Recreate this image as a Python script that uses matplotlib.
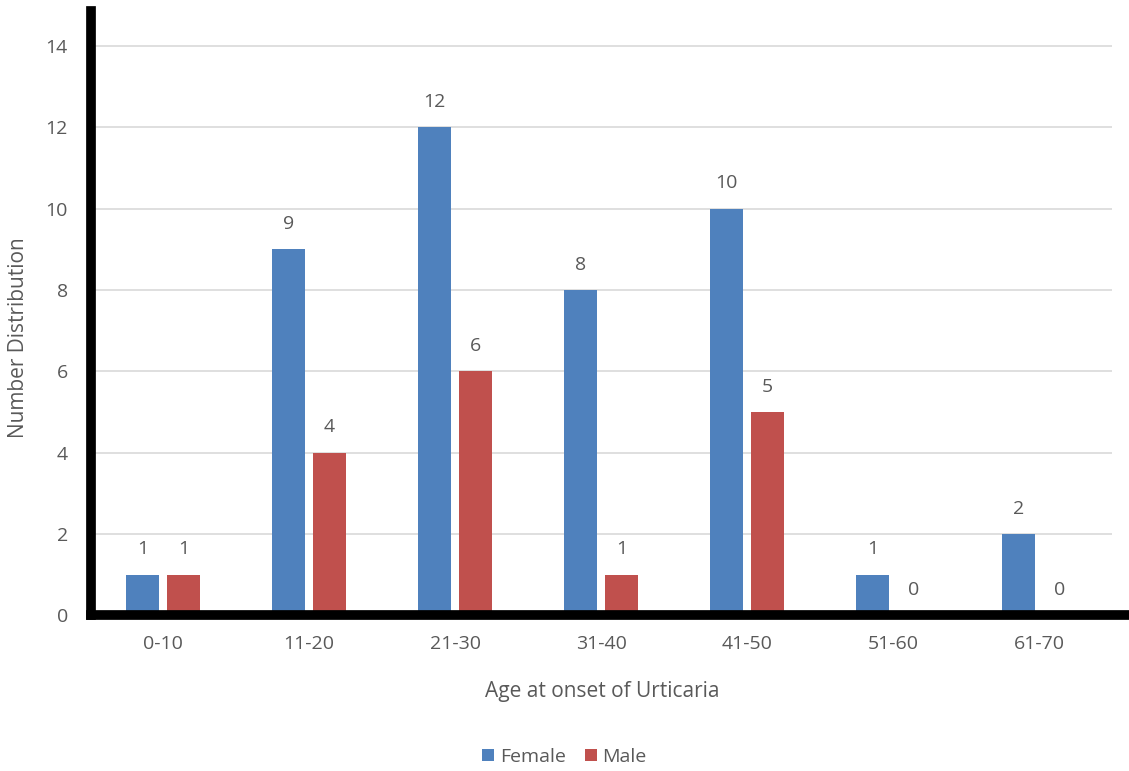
import numpy as np
import matplotlib.pyplot as plt

age_groups = ['0-10', '11-20', '21-30', '31-40', '41-50', '51-60', '61-70']
female = [1, 9, 12, 8, 10, 1, 2]
male = [1, 4, 6, 1, 5, 0, 0]

blue = '#4F81BD'
red = '#C0504D'
gray = '#595959'

plt.rcParams['font.family'] = ['Open Sans', 'DejaVu Sans']

fig = plt.figure(figsize=(11.29, 7.71), dpi=100)
ax = fig.add_axes([0.081, 0.202, 0.904, 0.784])

x = np.arange(len(age_groups))
w = 0.23
off = 0.14
b1 = ax.bar(x - off, female, w, color=blue, label='Female', zorder=3)
b2 = ax.bar(x + off, male, w, color=red, label='Male', zorder=3)

for bars in (b1, b2):
    for r in bars:
        h = r.get_height()
        ax.text(r.get_x() + r.get_width() / 2, h + 0.4, str(int(h)),
                ha='center', va='bottom', fontsize=14, color=gray)

ax.set_xlim(-0.49, 6.5)
ax.set_ylim(0, 14.87)
ax.set_yticks(range(0, 15, 2))
ax.set_xticks(x)
ax.set_xticklabels(age_groups)
ax.tick_params(axis='both', length=0, labelsize=14, colors=gray)
ax.tick_params(axis='y', pad=17)
ax.tick_params(axis='x', pad=14)
ax.grid(axis='y', color='#D9D9D9', linewidth=1.2, zorder=0)

for s in ['top', 'right']:
    ax.spines[s].set_visible(False)
for s in ['left', 'bottom']:
    ax.spines[s].set_linewidth(7)
    ax.spines[s].set_color('black')
    ax.spines[s].set_zorder(4)
ax.spines['bottom'].set_bounds(-0.49, 6.64)

ax.set_xlabel('Age at onset of Urticaria', fontsize=15, color=gray)
ax.set_ylabel('Number Distribution', fontsize=15, color=gray)
ax.xaxis.set_label_coords(0.5, -0.108)
ax.yaxis.set_label_coords(-0.061, 0.46)

fig.legend(handles=[b1, b2], loc='center', bbox_to_anchor=(0.5, 0.018),
           ncol=2, frameon=False, fontsize=14, labelcolor=gray,
           handlelength=0.6, handleheight=0.6, handletextpad=0.3, columnspacing=1.0)

fig.savefig('out.png', dpi=100)
